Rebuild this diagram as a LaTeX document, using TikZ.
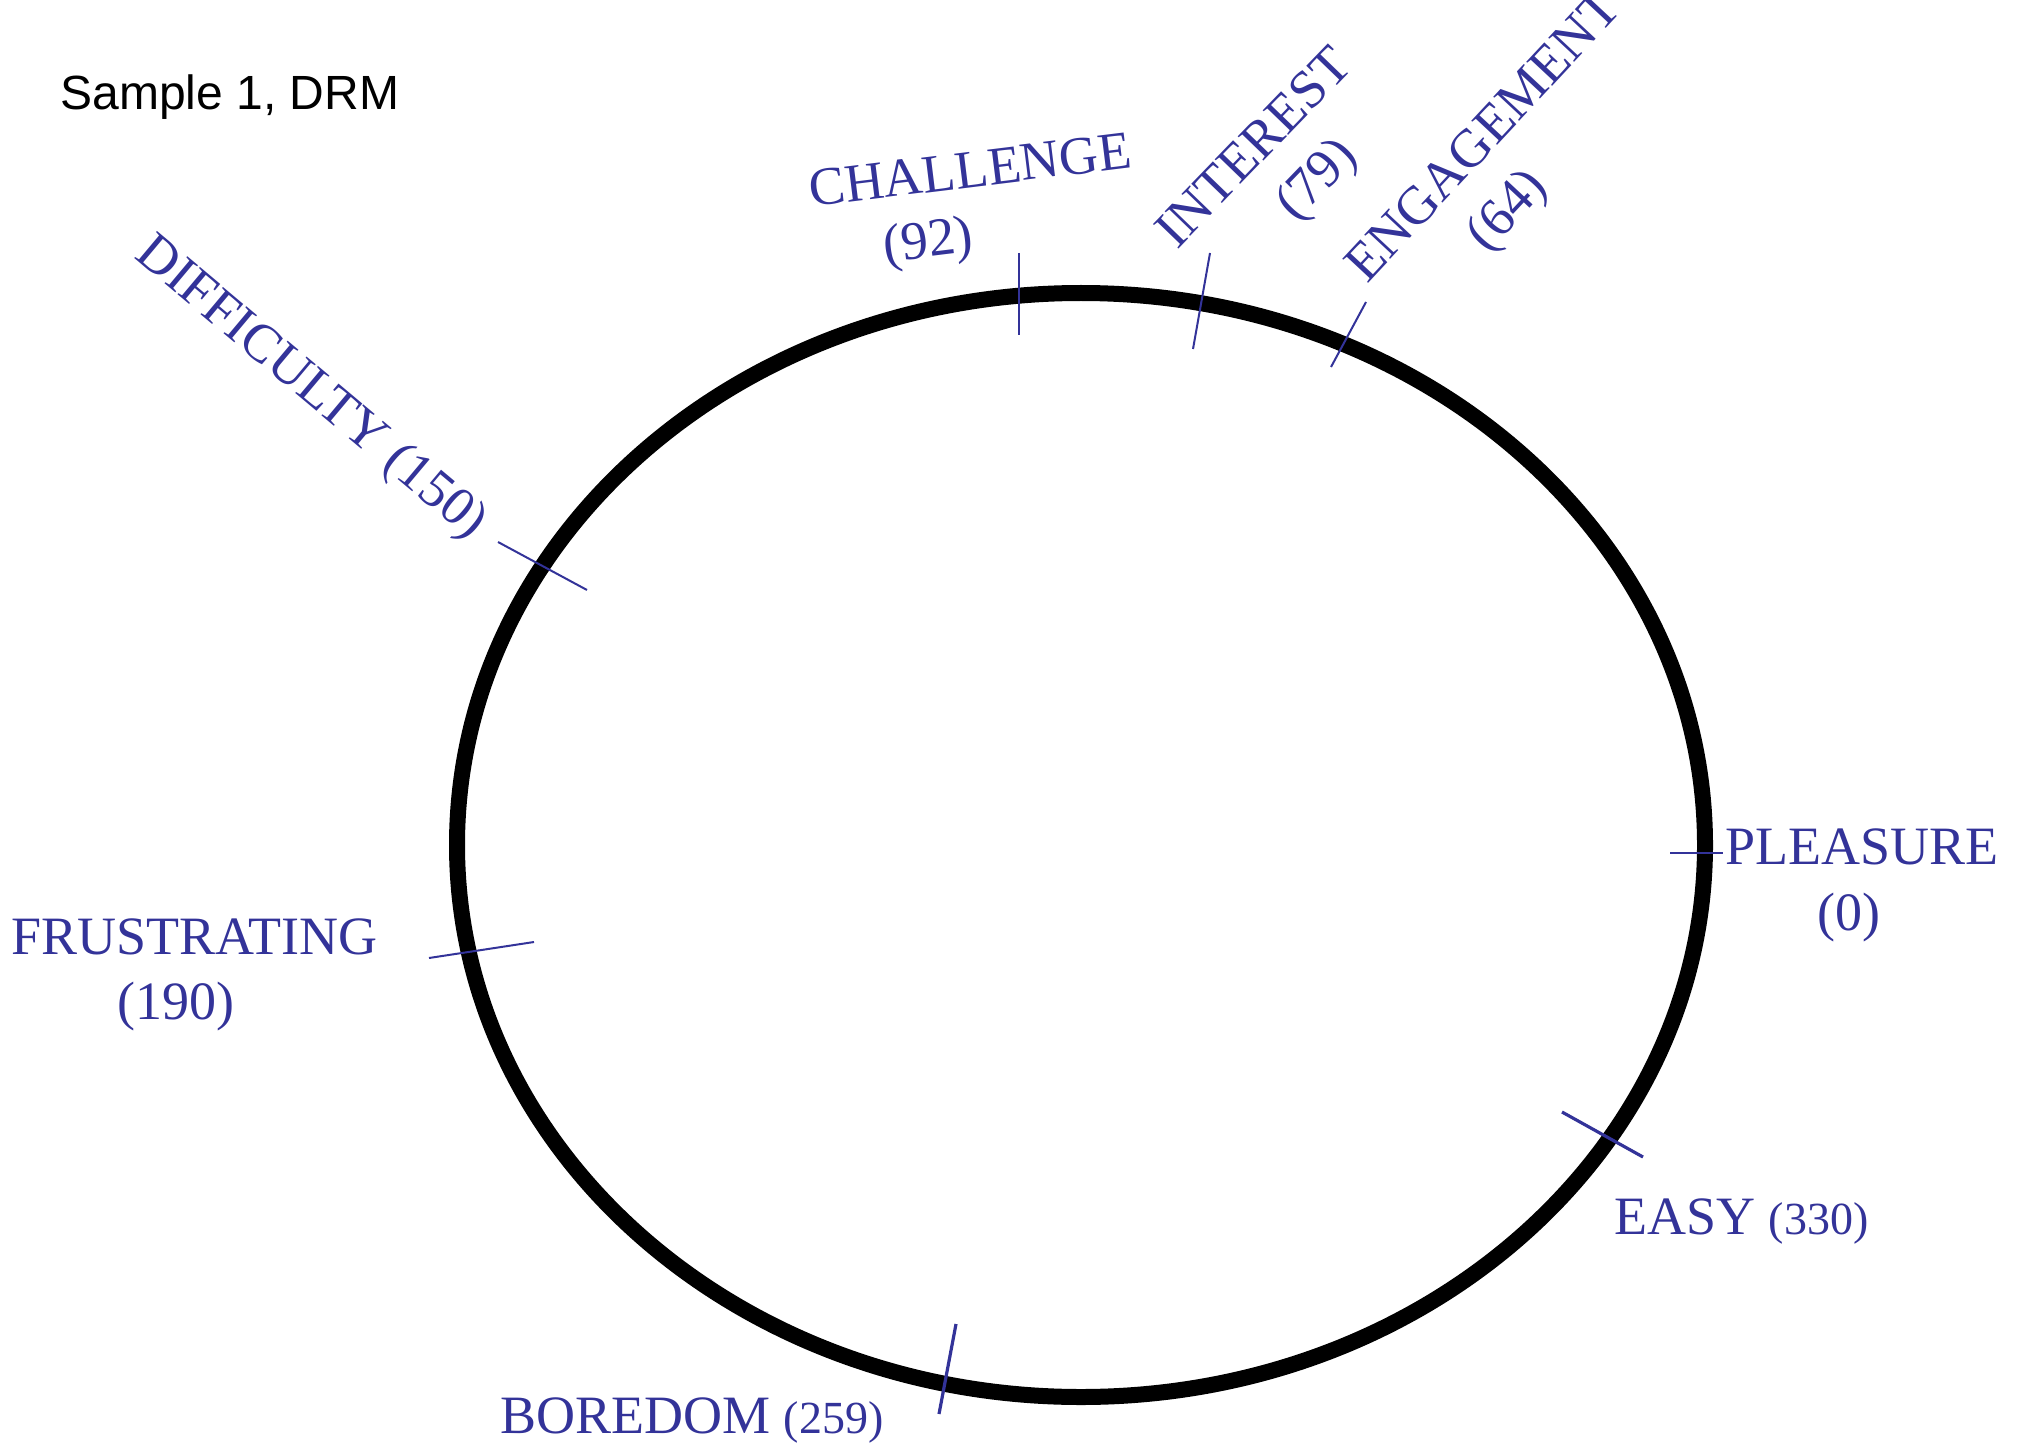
\documentclass[tikz,border=0pt]{standalone}
\usepackage{fontspec}
\setmainfont{Liberation Serif}
\newfontfamily\titlesans{Liberation Sans}
\definecolor{labelblue}{RGB}{51,51,153}
\tikzset{
  lbl/.style={text=labelblue, inner sep=0pt, font=\fontsize{27}{27}\selectfont},
  ring/.style={draw=black, line width=8pt},
  tick/.style={draw=labelblue, line width=1pt},
  thicktick/.style={draw=labelblue, line width=1.6pt}
}
\newcommand{\smallnum}[1]{{\fontsize{23}{23}\selectfont #1}}
\begin{document}
\begin{tikzpicture}[x=0.5pt,y=-0.5pt]
\useasboundingbox (0,0) rectangle (2022,1444);
% title
\node[anchor=base west, inner sep=0pt, font=\titlesans\fontsize{24}{24}\selectfont] (title) at (60,110) {Sample 1, DRM};
% ellipse
\draw[ring] (1081,845) ellipse [x radius=624, y radius=552];
% ticks
\draw[tick] (1670,853) -- (1723,853);
\draw[tick] (1019,253) -- (1019,335);
\draw[tick] (1210,253) -- (1193,349);
\draw[tick] (1366,302) -- (1331,367);
\draw[tick] (498,542) -- (587,590);
\draw[tick] (429,958) -- (534,942);
\draw[thicktick] (956,1324) -- (939,1414);
\draw[thicktick] (1562,1112) -- (1643,1157);
% labels
\node[lbl, rotate=7, anchor=base west] (chal) at (811,207) {CHALLENGE};
\node[lbl, rotate=7, anchor=base] (chalv) at (930,257) {(92)};
\node[lbl, rotate=46, anchor=base west] (intr) at (1177,251) {INTEREST};
\node[lbl, rotate=46] (intrv) at (1318,181) {(79)};
\node[lbl, rotate=47, anchor=base west] (eng) at (1367,285) {ENGAGEMENT};
\node[lbl, rotate=47] (engv) at (1509,212) {(64)};
\node[lbl, rotate=-40, anchor=base west] (diff) at (133,257) {DIFFICULTY (150)};
\node[lbl, anchor=base west] (frus) at (11,954) {FRUSTRATING};
\node[lbl, anchor=base] (frusv) at (176,1019) {(190)};
\node[lbl, anchor=base west] (plea) at (1725,864) {PLEASURE};
\node[lbl, anchor=base] (pleav) at (1849,930) {(0)};
\node[lbl, anchor=base west] (easy) at (1614,1234) {EASY \smallnum{(330)}};
\node[lbl, anchor=base west] (bore) at (500,1433) {BOREDOM \smallnum{(259)}};
\end{tikzpicture}
\end{document}
